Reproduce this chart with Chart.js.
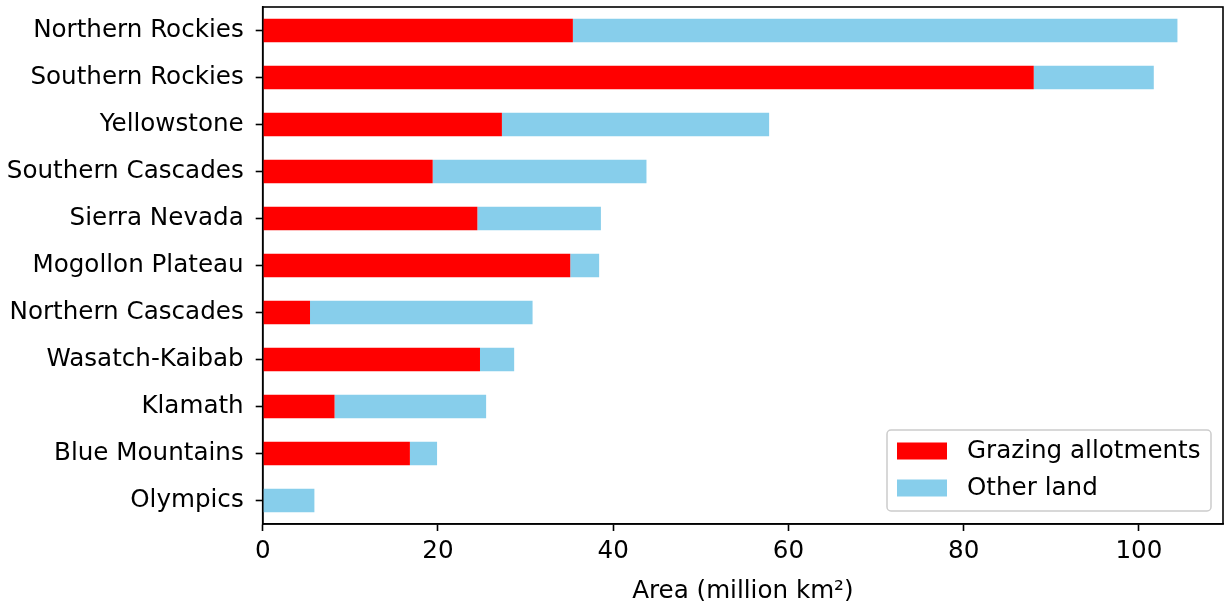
<!DOCTYPE html>
<html lang="en">
  <head>
    <meta charset="UTF-8" />
    <title>Area by region</title>
    <script src="https://cdn.jsdelivr.net/npm/chart.js@4.4.0/dist/chart.umd.min.js"></script>
    <style>
      body { margin: 0; background: #fff; }
      #chart { display: block; }
    </style>
  </head>
  <body>
    <canvas id="chart" width="1225" height="609"></canvas>
    <script>
      // values (million km2)
      const regions = [
        "Northern Rockies",
        "Southern Rockies",
        "Yellowstone",
        "Southern Cascades",
        "Sierra Nevada",
        "Mogollon Plateau",
        "Northern Cascades",
        "Wasatch-Kaibab",
        "Klamath",
        "Blue Mountains",
        "Olympics",
      ];
      const grazing = [35.4, 88.0, 27.3, 19.4, 24.5, 35.1, 5.4, 24.8, 8.2, 16.8, 0];
      const otherLand = [69.0, 13.7, 30.5, 24.4, 14.1, 3.3, 25.4, 3.9, 17.3, 3.1, 5.9];
      const xTicks = [0, 20, 40, 60, 80, 100];

      const FONT = "'DejaVu Sans', sans-serif";
      const FSIZE = 24.6;

      // matplotlib style box around the plot
      const framePlugin = {
        id: "frame",
        afterDraw(chart) {
          const a = chart.chartArea;
          const ctx = chart.ctx;
          ctx.save();
          ctx.strokeStyle = "#000";
          ctx.lineWidth = 1.6;
          ctx.strokeRect(a.left, a.top, a.right - a.left, a.bottom - a.top);
          ctx.restore();
        },
      };

      // legend sits inside the plot, lower right
      const innerLegend = {
        id: "innerLegend",
        afterDraw(chart) {
          const a = chart.chartArea;
          const ctx = chart.ctx;
          const sets = chart.data.datasets;
          const w = 324, h = 81;
          const x = a.right - 12 - w;
          const y = a.bottom - 13 - h;
          ctx.save();
          ctx.fillStyle = "rgba(255,255,255,0.8)";
          ctx.strokeStyle = "#cccccc";
          ctx.lineWidth = 1.5;
          ctx.beginPath();
          ctx.roundRect(x, y, w, h, 4);
          ctx.fill();
          ctx.stroke();
          ctx.font = FSIZE + "px " + FONT;
          ctx.textBaseline = "middle";
          ctx.textAlign = "left";
          sets.forEach((ds, i) => {
            const cy = y + 21 + i * 37;
            ctx.fillStyle = ds.backgroundColor;
            ctx.fillRect(x + 10, cy - 8.5, 50, 17);
            ctx.fillStyle = "#000";
            ctx.fillText(ds.label, x + 80, cy + 1);
          });
          ctx.restore();
        },
      };

      new Chart(document.getElementById("chart"), {
        type: "bar",
        data: {
          labels: regions,
          datasets: [
            {
              label: "Grazing allotments",
              data: grazing,
              backgroundColor: "#ff0000",
              categoryPercentage: 1,
              barPercentage: 0.5,
            },
            {
              label: "Other land",
              data: otherLand,
              backgroundColor: "#87ceeb",
              categoryPercentage: 1,
              barPercentage: 0.5,
            },
          ],
        },
        options: {
          indexAxis: "y",
          responsive: false,
          animation: false,
          layout: { padding: { top: 7, right: 2, left: 0, bottom: 0 } },
          plugins: {
            legend: { display: false },
            tooltip: { enabled: false },
          },
          scales: {
            x: {
              stacked: true,
              min: 0,
              max: 109.6,
              afterBuildTicks(scale) {
                scale.ticks = xTicks.map((v) => ({ value: v }));
              },
              afterFit(scale) {
                scale.height = 85;
                scale.paddingLeft = 0;
                scale.paddingRight = 0;
              },
              grid: {
                drawOnChartArea: false,
                drawTicks: true,
                tickLength: 7,
                tickWidth: 1.6,
                tickColor: "#000",
              },
              border: { color: "#000", width: 1.6 },
              ticks: {
                color: "#000",
                font: { family: FONT, size: FSIZE },
                padding: 6,
                maxRotation: 0,
              },
              title: {
                display: true,
                text: "Area (million km²)",
                color: "#000",
                font: { family: FONT, size: FSIZE },
                padding: { top: 0, bottom: 3 },
              },
            },
            y: {
              stacked: true,
              offset: true,
              afterFit(scale) {
                scale.width = 262.7;
                scale.paddingTop = 0;
                scale.paddingBottom = 0;
              },
              grid: {
                offset: false,
                drawOnChartArea: false,
                drawTicks: true,
                tickLength: 7,
                tickWidth: 1.6,
                tickColor: "#000",
              },
              border: { color: "#000", width: 1.6 },
              ticks: {
                color: "#000",
                font: { family: FONT, size: FSIZE },
                padding: 12,
                autoSkip: false,
              },
            },
          },
        },
        plugins: [framePlugin, innerLegend],
      });
    </script>
  </body>
</html>
